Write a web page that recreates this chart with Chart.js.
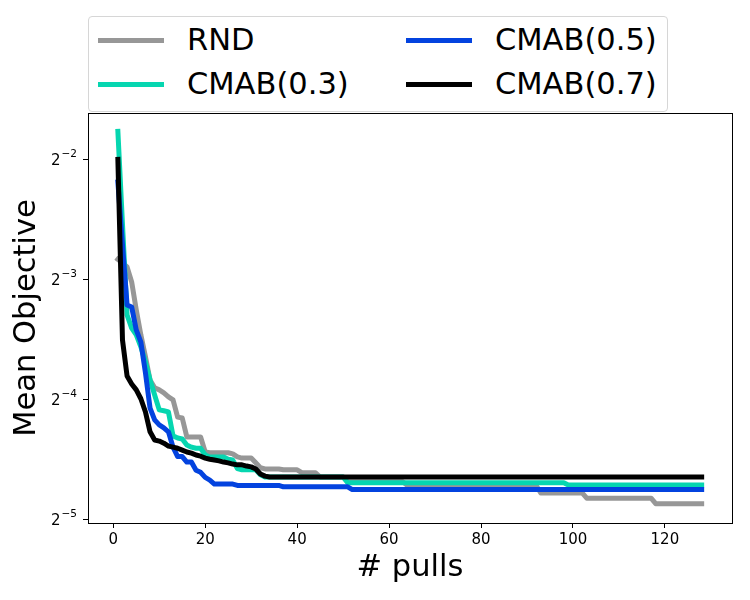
<!DOCTYPE html>
<html lang="en">
<head>
<meta charset="UTF-8">
<title>Mean Objective vs # pulls</title>
<script src="https://cdn.jsdelivr.net/npm/chart.js"></script>
<style>
  body { margin: 0; background: #fff; }
  #wrap { position: relative; width: 750px; height: 600px; font-family: 'DejaVu Sans', sans-serif; }
  #legend {
    position: absolute; left: 88px; top: 16px; width: 580px; height: 96px;
    box-sizing: border-box; border: 1px solid #d6d6d6; border-radius: 4px; background: #fff;
  }
  .swatch { position: absolute; width: 66px; height: 5px; }
  .label { position: absolute; font-size: 30.5px; line-height: 1; color: #000; white-space: nowrap; }
</style>
</head>
<body>
<div id="wrap">
  <canvas id="chart" width="750" height="600"></canvas>
  <div id="legend"></div>
</div>
<script>
// x = number of pulls
const pulls = Array.from({ length: 128 }, (_, i) => i + 1);

const rnd = [
  0.1403, 0.1374, 0.1343, 0.1231, 0.1047, 0.0907, 0.0799, 0.0699, 0.0668, 0.0660,
  0.0649, 0.0634, 0.0623, 0.0564, 0.0561, 0.0503, 0.0503, 0.0503, 0.0503, 0.0461,
  0.0459, 0.0459, 0.0459, 0.0459, 0.0459, 0.0456, 0.0448, 0.0445, 0.0445, 0.0445,
  0.0433, 0.0421, 0.0418, 0.0418, 0.0418, 0.0418, 0.0416, 0.0416, 0.0416, 0.0416,
  0.0409, 0.0409, 0.0409, 0.0409, 0.0399, 0.0399, 0.0399, 0.0399, 0.0399, 0.0399,
  0.0388, 0.0388, 0.0388, 0.0388, 0.0388, 0.0388, 0.0388, 0.0388, 0.0388, 0.0388,
  0.0388, 0.0388, 0.0388, 0.0380, 0.0380, 0.0380, 0.0380, 0.0380, 0.0380, 0.0380,
  0.0380, 0.0380, 0.0380, 0.0380, 0.0380, 0.0380, 0.0380, 0.0380, 0.0380, 0.0380,
  0.0380, 0.0380, 0.0380, 0.0380, 0.0380, 0.0380, 0.0380, 0.0380, 0.0380, 0.0380,
  0.0380, 0.0380, 0.0364, 0.0364, 0.0364, 0.0364, 0.0364, 0.0364, 0.0364, 0.0364,
  0.0364, 0.0364, 0.0353, 0.0353, 0.0353, 0.0353, 0.0353, 0.0353, 0.0353, 0.0353,
  0.0353, 0.0353, 0.0353, 0.0353, 0.0353, 0.0353, 0.0353, 0.0342, 0.0342, 0.0342,
  0.0342, 0.0342, 0.0342, 0.0342, 0.0342, 0.0342, 0.0342, 0.0342
];

const cmab03 = [
  0.2940, 0.1720, 0.1017, 0.0943, 0.0907, 0.0846, 0.0775, 0.0699, 0.0641, 0.0588,
  0.0585, 0.0581, 0.0506, 0.0500, 0.0497, 0.0480, 0.0474, 0.0471, 0.0471, 0.0453,
  0.0448, 0.0448, 0.0448, 0.0448, 0.0442, 0.0440, 0.0419, 0.0416, 0.0416, 0.0416,
  0.0416, 0.0404, 0.0399, 0.0399, 0.0399, 0.0399, 0.0399, 0.0399, 0.0399, 0.0399,
  0.0399, 0.0399, 0.0399, 0.0399, 0.0399, 0.0399, 0.0399, 0.0399, 0.0399, 0.0399,
  0.0386, 0.0386, 0.0386, 0.0386, 0.0386, 0.0386, 0.0386, 0.0386, 0.0386, 0.0386,
  0.0386, 0.0386, 0.0386, 0.0386, 0.0386, 0.0386, 0.0386, 0.0386, 0.0386, 0.0386,
  0.0386, 0.0386, 0.0386, 0.0386, 0.0386, 0.0386, 0.0386, 0.0386, 0.0386, 0.0386,
  0.0386, 0.0386, 0.0386, 0.0386, 0.0386, 0.0386, 0.0386, 0.0386, 0.0386, 0.0386,
  0.0386, 0.0386, 0.0386, 0.0386, 0.0386, 0.0386, 0.0386, 0.0386, 0.0381, 0.0381,
  0.0381, 0.0381, 0.0381, 0.0381, 0.0381, 0.0381, 0.0381, 0.0381, 0.0381, 0.0381,
  0.0381, 0.0381, 0.0381, 0.0381, 0.0381, 0.0381, 0.0381, 0.0381, 0.0381, 0.0381,
  0.0381, 0.0381, 0.0381, 0.0381, 0.0381, 0.0381, 0.0381, 0.0381
];

const cmab05 = [
  0.2193, 0.1530, 0.1078, 0.1065, 0.0933, 0.0870, 0.0728, 0.0594, 0.0555, 0.0539,
  0.0530, 0.0518, 0.0474, 0.0449, 0.0449, 0.0435, 0.0435, 0.0415, 0.0410, 0.0398,
  0.0392, 0.0383, 0.0383, 0.0383, 0.0383, 0.0383, 0.0380, 0.0380, 0.0380, 0.0380,
  0.0380, 0.0380, 0.0380, 0.0380, 0.0380, 0.0380, 0.0377, 0.0377, 0.0377, 0.0377,
  0.0377, 0.0377, 0.0377, 0.0377, 0.0377, 0.0377, 0.0377, 0.0377, 0.0377, 0.0377,
  0.0377, 0.0371, 0.0371, 0.0371, 0.0371, 0.0371, 0.0371, 0.0371, 0.0371, 0.0371,
  0.0371, 0.0371, 0.0371, 0.0371, 0.0371, 0.0371, 0.0371, 0.0371, 0.0371, 0.0371,
  0.0371, 0.0371, 0.0371, 0.0371, 0.0371, 0.0371, 0.0371, 0.0371, 0.0371, 0.0371,
  0.0371, 0.0371, 0.0371, 0.0371, 0.0371, 0.0371, 0.0371, 0.0371, 0.0371, 0.0371,
  0.0371, 0.0371, 0.0371, 0.0371, 0.0371, 0.0371, 0.0371, 0.0371, 0.0371, 0.0371,
  0.0371, 0.0371, 0.0371, 0.0371, 0.0371, 0.0371, 0.0371, 0.0371, 0.0371, 0.0371,
  0.0371, 0.0371, 0.0371, 0.0371, 0.0371, 0.0371, 0.0371, 0.0371, 0.0371, 0.0371,
  0.0371, 0.0371, 0.0371, 0.0371, 0.0371, 0.0371, 0.0371, 0.0371
];

const cmab07 = [
  0.2500, 0.0881, 0.0715, 0.0683, 0.0660, 0.0627, 0.0581, 0.0518, 0.0494, 0.0491,
  0.0485, 0.0477, 0.0474, 0.0471, 0.0466, 0.0461, 0.0458, 0.0453, 0.0450, 0.0445,
  0.0442, 0.0440, 0.0438, 0.0435, 0.0433, 0.0430, 0.0428, 0.0428, 0.0425, 0.0423,
  0.0418, 0.0406, 0.0401, 0.0399, 0.0399, 0.0399, 0.0399, 0.0399, 0.0399, 0.0399,
  0.0399, 0.0399, 0.0399, 0.0399, 0.0399, 0.0399, 0.0399, 0.0399, 0.0399, 0.0399,
  0.0399, 0.0399, 0.0399, 0.0399, 0.0399, 0.0399, 0.0399, 0.0399, 0.0399, 0.0399,
  0.0399, 0.0399, 0.0399, 0.0399, 0.0399, 0.0399, 0.0399, 0.0399, 0.0399, 0.0399,
  0.0399, 0.0399, 0.0399, 0.0399, 0.0399, 0.0399, 0.0399, 0.0399, 0.0399, 0.0399,
  0.0399, 0.0399, 0.0399, 0.0399, 0.0399, 0.0399, 0.0399, 0.0399, 0.0399, 0.0399,
  0.0399, 0.0399, 0.0399, 0.0399, 0.0399, 0.0399, 0.0399, 0.0399, 0.0399, 0.0399,
  0.0399, 0.0399, 0.0399, 0.0399, 0.0399, 0.0399, 0.0399, 0.0399, 0.0399, 0.0399,
  0.0399, 0.0399, 0.0399, 0.0399, 0.0399, 0.0399, 0.0399, 0.0399, 0.0399, 0.0399,
  0.0399, 0.0399, 0.0399, 0.0399, 0.0399, 0.0399, 0.0399, 0.0399
];

const seriesNames = ['RND', 'CMAB(0.3)', 'CMAB(0.5)', 'CMAB(0.7)'];
const seriesData = [rnd, cmab03, cmab05, cmab07];
const seriesColors = ['#979797', '#06d6b0', '#0343df', '#000000'];

const xTicks = [0, 20, 40, 60, 80, 100, 120];
const yTicks = [0.25, 0.125, 0.0625, 0.03125];
const yTickBase = '2';
const yTickExp = ['\u22122', '\u22123', '\u22124', '\u22125'];

const FONT = "'DejaVu Sans', sans-serif";

// legend: 2 columns, filled column by column like matplotlib
const legendBox = document.getElementById('legend');
const legendCols = [[0, 1], [2, 3]];
legendCols.forEach((col, c) => {
  col.forEach((si, r) => {
    const sw = document.createElement('div');
    sw.className = 'swatch';
    sw.style.left = (9 + c * 308) + 'px';
    sw.style.top = (20.5 + r * 44) + 'px';
    sw.style.background = seriesColors[si];
    legendBox.appendChild(sw);
    const lb = document.createElement('div');
    lb.className = 'label';
    lb.style.left = (98 + c * 308) + 'px';
    lb.style.top = (8 + r * 43.5) + 'px';
    lb.textContent = seriesNames[si];
    legendBox.appendChild(lb);
  });
});

// top + right spines, and the 2^-n tick labels with a real superscript
const framePlugin = {
  id: 'frame',
  afterDraw(chart) {
    const { ctx, chartArea: a } = chart;
    ctx.save();
    ctx.strokeStyle = '#000';
    ctx.lineWidth = 1;
    ctx.strokeRect(a.left + 0.5, a.top + 0.5, a.right - a.left, a.bottom - a.top);

    const yScale = chart.scales.y;
    const right = a.left - 11;
    ctx.fillStyle = '#000';
    ctx.textAlign = 'right';
    ctx.textBaseline = 'alphabetic';
    yTicks.forEach((v, i) => {
      const y = yScale.getPixelForValue(v);
      ctx.font = '10.5px ' + FONT;
      ctx.fillText(yTickExp[i], right, y - 2.5);
      const w = ctx.measureText(yTickExp[i]).width;
      ctx.font = '15px ' + FONT;
      ctx.fillText(yTickBase, right - w - 1, y + 5.5);
    });
    ctx.restore();
  }
};

new Chart(document.getElementById('chart'), {
  type: 'line',
  data: {
    labels: pulls,
    datasets: seriesNames.map((name, i) => ({
      label: name,
      data: seriesData[i],
      borderColor: seriesColors[i],
      borderWidth: 5,
      borderCapStyle: 'square',
      borderJoinStyle: 'round',
      pointRadius: 0,
      tension: 0,
      fill: false,
      order: seriesNames.length - i
    }))
  },
  options: {
    responsive: false,
    animation: false,
    events: [],
    layout: { padding: { top: 113, right: 18, left: 0, bottom: 0 } },
    plugins: {
      legend: { display: false },
      tooltip: { enabled: false }
    },
    scales: {
      x: {
        type: 'linear',
        min: -5.5,
        max: 134.6,
        afterBuildTicks: s => { s.ticks = xTicks.map(v => ({ value: v })); },
        afterFit: s => { s.height = 77; },
        ticks: { color: '#000', padding: 3, font: { family: FONT, size: 15 } },
        grid: { drawOnChartArea: false, tickLength: 5, color: '#000' },
        border: { color: '#000', width: 1 },
        title: {
          display: true,
          text: '# pulls',
          color: '#000',
          font: { family: FONT, size: 30.5 },
          padding: { top: 0, bottom: 14 }
        }
      },
      y: {
        type: 'logarithmic',
        min: 0.03059,
        max: 0.3267,
        afterBuildTicks: s => { s.ticks = yTicks.map(v => ({ value: v })); },
        afterFit: s => { s.width = 88; },
        ticks: {
          color: '#000',
          padding: 5,
          font: { family: FONT, size: 15 },
          callback: () => ''
        },
        grid: { drawOnChartArea: false, tickLength: 5, color: '#000' },
        border: { color: '#000', width: 1 },
        title: {
          display: true,
          text: 'Mean Objective',
          color: '#000',
          font: { family: FONT, size: 30.5 },
          padding: { top: 9, bottom: 0 }
        }
      }
    }
  },
  plugins: [framePlugin]
});
</script>
</body>
</html>
